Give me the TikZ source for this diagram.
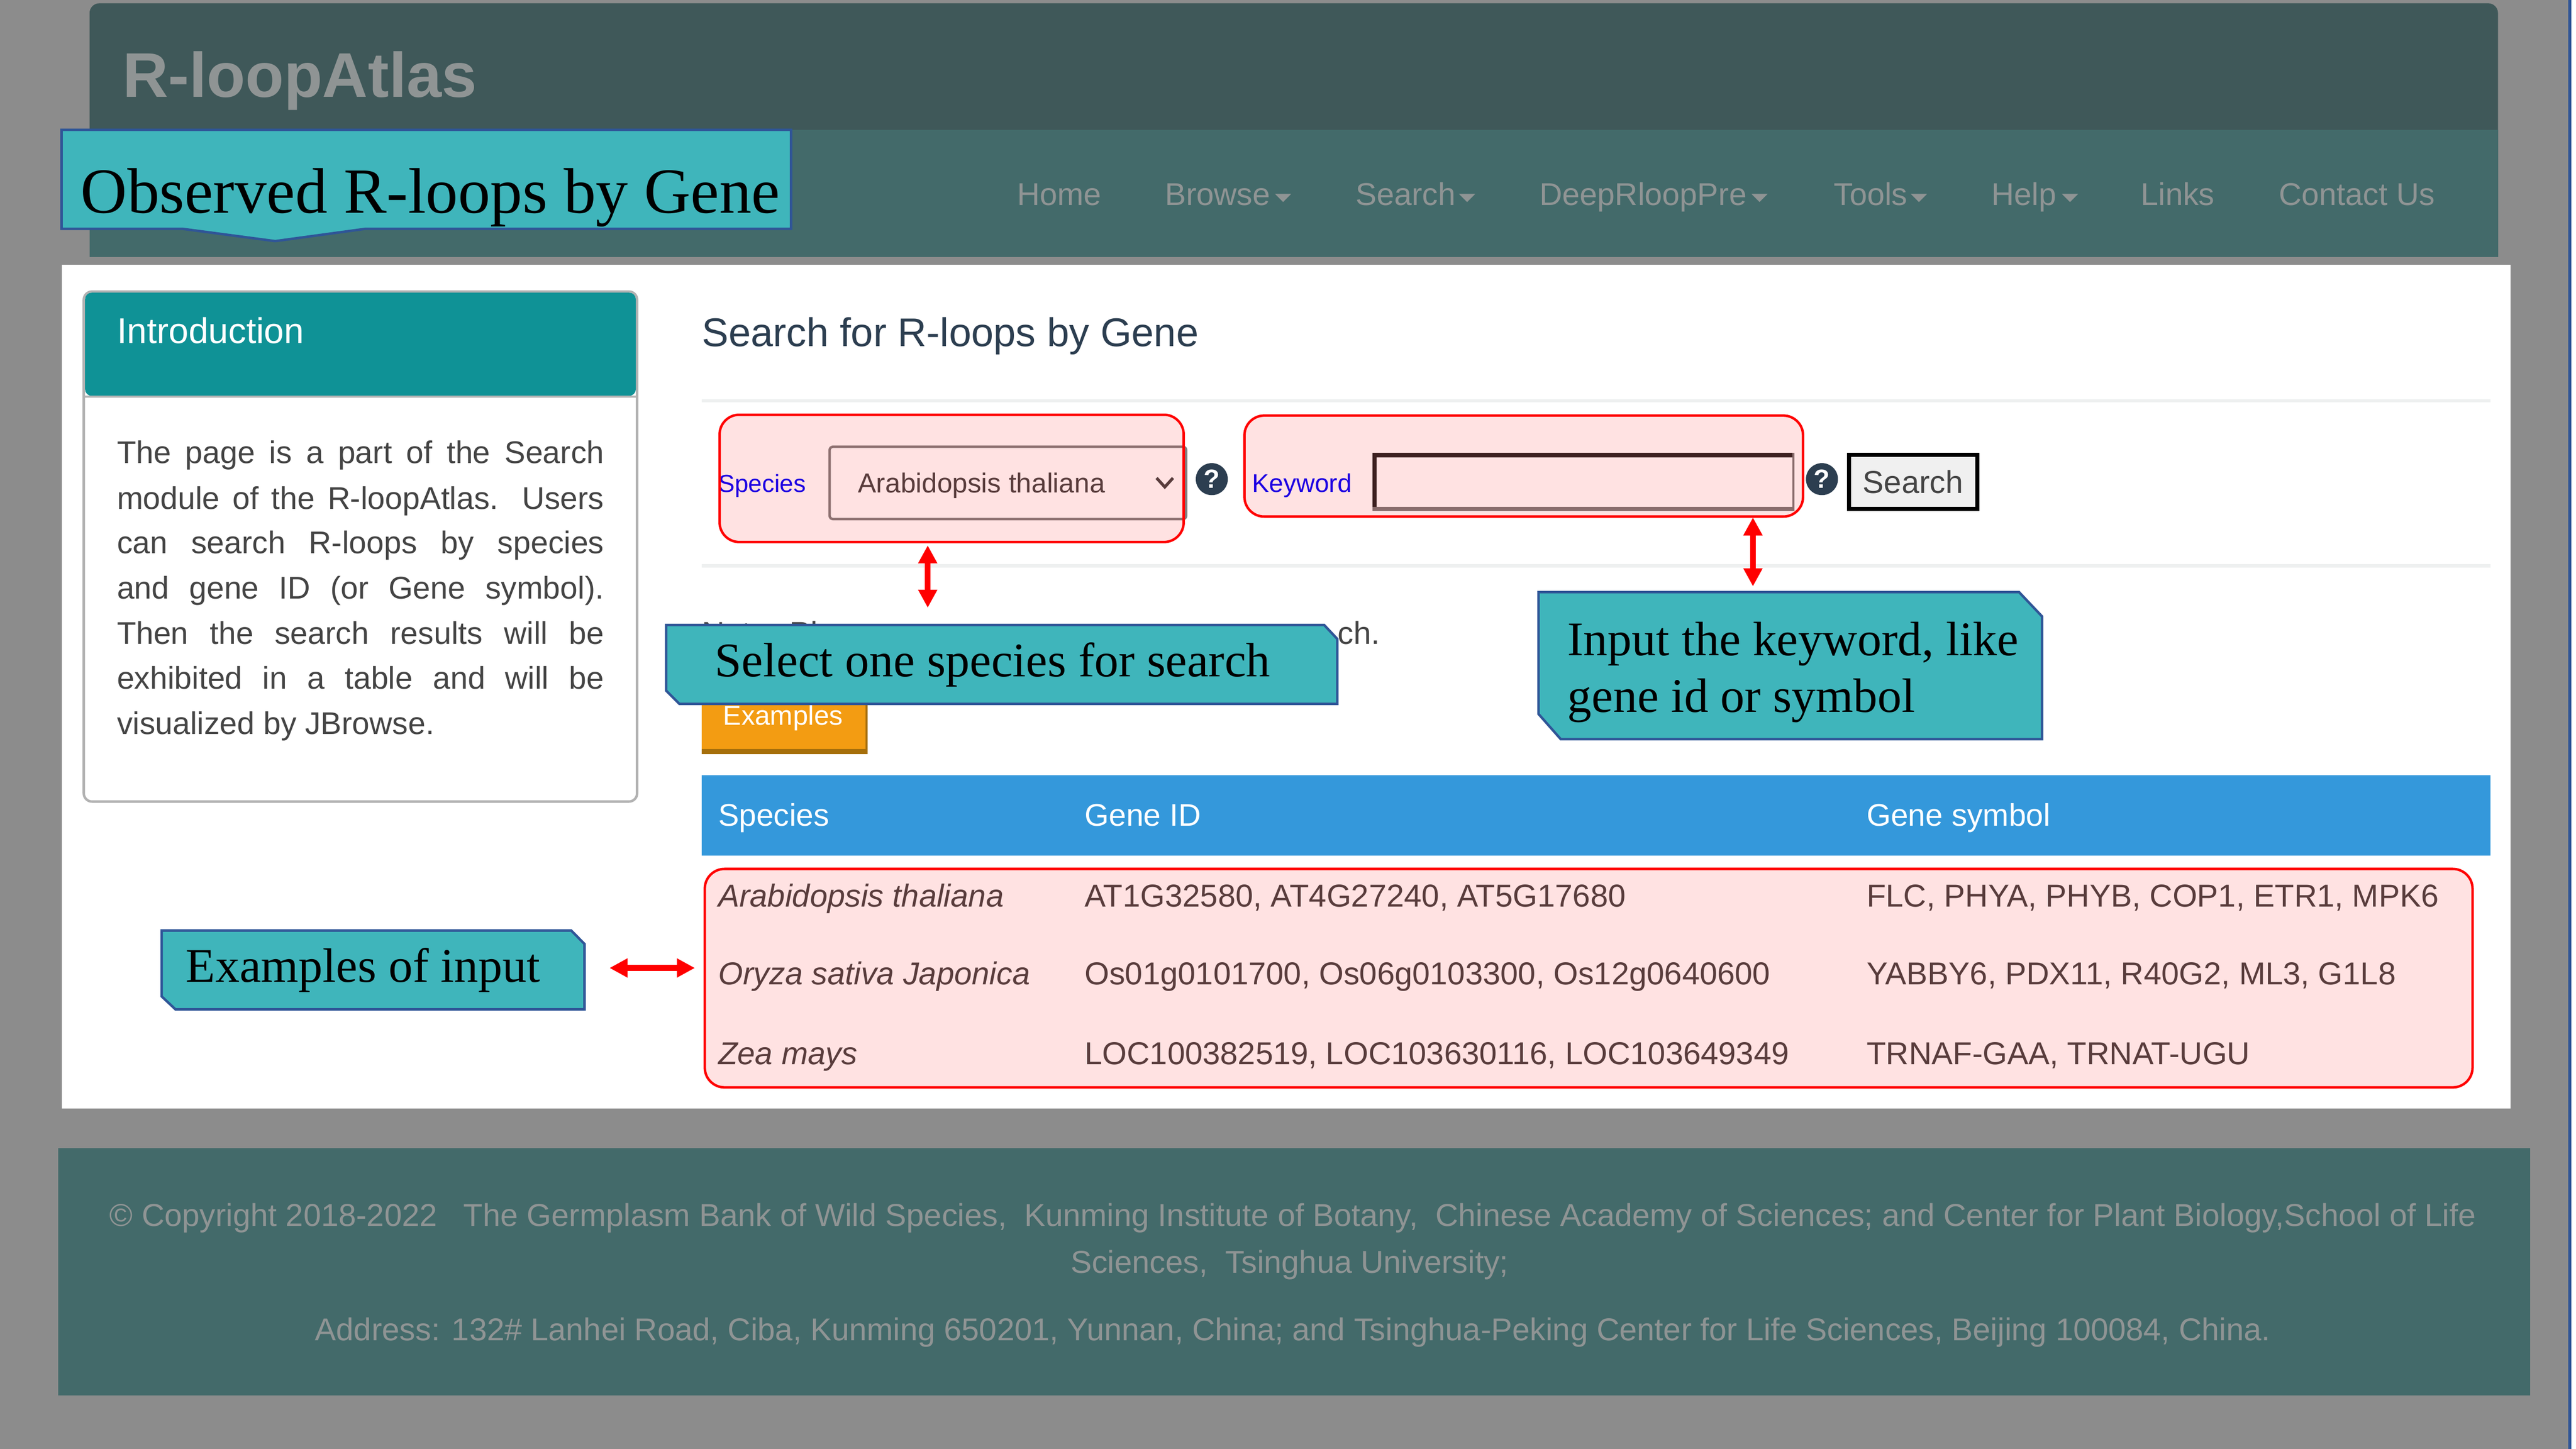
\documentclass[tikz,border=0pt]{standalone}
\usepackage{fontspec}
\setmainfont{Liberation Sans}
\newfontfamily\calloutfont{Liberation Serif}
\usetikzlibrary{arrows.meta}
\definecolor{pagegray}{HTML}{8C8C8C}
\definecolor{headdark}{HTML}{3F5859}
\definecolor{navteal}{HTML}{436A6A}
\definecolor{navtext}{HTML}{8F9494}
\definecolor{calloutfill}{HTML}{3FB5BB}
\definecolor{calloutline}{HTML}{2F5597}
\definecolor{panelteal}{HTML}{0F9296}
\definecolor{tableblue}{HTML}{3498DB}
\definecolor{btnorange}{HTML}{F39C12}
\definecolor{btnshade}{HTML}{A66F0B}
\definecolor{inktext}{HTML}{444444}
\definecolor{headtext}{HTML}{2C3E50}
\definecolor{ruleline}{HTML}{EEF0F0}
\newcommand{\fsz}[1]{\fontsize{#1}{#1}\selectfont}
\newcommand{\jline}[1]{\hbox to 296.5pt{#1}}
\tikzset{
  word/.style={inner sep=0pt, anchor=base west},
  navword/.style={word, text=navtext, font=\fsz{19.2}},
  introword/.style={word, text=inktext, font=\fsz{19.1}},
  rowword/.style={word, text=inktext, font=\fsz{19.3}},
  headword/.style={word, text=white, font=\fsz{19}},
  footword/.style={inner sep=0pt, anchor=base, text=navtext, font=\fsz{19.26}},
  calloutword/.style={word, text=black, font=\calloutfont\fsz{29.4}},
  calloutbox/.style={fill=calloutfill, draw=calloutline, line width=1.5pt, line join=miter},
  pickbox/.style={fill=red, fill opacity=0.115, draw=red, draw opacity=1, line width=1.5pt, rounded corners=12pt},
  twoway/.style={red, line width=3.6pt, {Triangle[length=11pt,width=11pt]}-{Triangle[length=11pt,width=11pt]}},
  helpdot/.style={circle, fill=headtext, text=white, inner sep=0pt, minimum size=19.5pt, font=\bfseries\fsz{16}}
}
\begin{document}
\begin{tikzpicture}[x=1pt,y=-1pt]
	\useasboundingbox (0,0) rectangle (1568,882);
	\fill[white] (0,0) rectangle (1568,882);
	\fill[pagegray] (0,0) rectangle (1563.4,882);
	\fill[calloutline] (1563.4,0) rectangle (1565,882);

	%the page header
	\fill[navteal] (54.5,79) rectangle (1520.5,156.4);
	\fill[headdark, rounded corners=6pt] (54.5,90) -- (54.5,2) -- (1520.5,2) -- (1520.5,90) -- cycle;
	\fill[navteal] (54.5,79) rectangle (1520.5,100);
	\node[word, text=navtext, font=\bfseries\fsz{38.4}] (brand) at (74.5,59) {R-loopAtlas};
	\node[navword] (navhome) at (619,125) {Home};
	\node[navword] (navbrowse) at (709,125) {Browse};
	\node[navword] (navsearch) at (825,125) {Search};
	\node[navword] (navdeep) at (937,125) {DeepRloopPre};
	\node[navword] (navtools) at (1116,125) {Tools};
	\node[navword] (navhelp) at (1212,125) {Help};
	\node[navword] (navlinks) at (1303,125) {Links};
	\node[navword] (navcontact) at (1387,125) {Contact Us};
	\foreach \x in {776,888,1066,1163,1255}
		\fill[navtext] (\x,118) -- (\x+10,118) -- (\x+5,123) -- cycle;

	%the white page and the footer
	\fill[white] (37.5,161.2) rectangle (1528,675);
	\fill[navteal] (35.5,699) rectangle (1540,849.5);
	\node[footword] (footone) at (787,746.5) {© Copyright 2018-2022\ \ \ The Germplasm Bank of Wild Species,\ \ Kunming Institute of Botany,\ \ Chinese Academy of Sciences; and Center for Plant Biology,School of Life};
	\node[footword] (foottwo) at (785,775) {Sciences,\ \ Tsinghua University;};
	\node[footword] (footthree) at (787,816) {Address: 132\# Lanhei Road, Ciba, Kunming 650201, Yunnan, China; and Tsinghua-Peking Center for Life Sciences, Beijing 100084, China.};

	%the introduction panel
	\draw[draw=black!30, fill=white, line width=1.5pt, rounded corners=5pt] (51,177.5) rectangle (387.8,488);
	\fill[panelteal, rounded corners=4pt] (51.8,178.2) -- (387,178.2) -- (387,241) -- (51.8,241) -- cycle;
	\draw[black!30, line width=1.5pt] (51,241.5) -- (387.8,241.5);
	\node[word, text=white, font=\fsz{21.8}] (introtitle) at (71,209) {Introduction};
	\node[introword] (introa) at (71,282) {\jline{The page is a part of the Search}};
	\node[introword] (introb) at (71,310) {\jline{module of the R-loopAtlas. Users}};
	\node[introword] (introc) at (71,337) {\jline{can search R-loops by species}};
	\node[introword] (introd) at (71,364.5) {\jline{and gene ID (or Gene symbol).}};
	\node[introword] (introe) at (71,392) {\jline{Then the search results will be}};
	\node[introword] (introf) at (71,419.5) {\jline{exhibited in a table and will be}};
	\node[introword] (introg) at (71,447) {visualized by JBrowse.};

	%the search form
	\node[word, text=headtext, font=\fsz{24.4}] (formtitle) at (427,211) {Search for R-loops by Gene};
	\fill[ruleline] (427,243) rectangle (1516,245);
	\fill[ruleline] (427,343.5) rectangle (1516,345.5);
	\node[word, text=blue, font=\fsz{15}] (specieslabel) at (437,299.5) {Species};
	\draw[draw=black!50, line width=1.5pt, rounded corners=2pt] (505,272) rectangle (722,316);
	\node[word, text=inktext, font=\fsz{16.7}] (speciesname) at (522,300) {Arabidopsis thaliana};
	\draw[inktext, line width=1.8pt] (704,291) -- (709,296.5) -- (714,291);
	\node[helpdot] (helpone) at (737.6,291.7) {?};
	\node[word, text=blue, font=\fsz{15.6}] (keywordlabel) at (762,299.5) {Keyword};
	\fill[white] (836,275.6) rectangle (1092.3,311);
	\fill[black!85] (835.5,275.6) rectangle (1092.3,278.6);
	\fill[black!85] (835.5,275.6) rectangle (837.8,311);
	\fill[black!52] (835.5,308.5) rectangle (1092.3,311);
	\fill[black!52] (1091,275.6) rectangle (1092.3,311);
	\node[helpdot] (helptwo) at (1109,291.7) {?};
	\node[draw=black, fill=black!6, line width=2.6pt, inner sep=0pt, minimum width=78pt, minimum height=33pt, text=inktext, font=\fsz{19.3}] (searchbtn) at (1164.5,293.3) {Search};
	\draw[pickbox] (438,252.5) rectangle (720.5,330);
	\draw[pickbox] (757.5,253) rectangle (1097.5,314.5);

	%the note line, mostly hidden by the callout
	\node[rowword] (notestart) at (427,392) {Note: Pl};
	\node[rowword] (noteend) at (814,392) {ch.};

	%examples button
	\fill[btnshade] (427,424) rectangle (528,459);
	\fill[btnorange] (427,424) rectangle (526.8,456);
	\node[word, text=white, font=\fsz{16.6}] (examplesbtn) at (440,441.5) {Examples};

	%the table
	\fill[tableblue] (427,472) rectangle (1516,521);
	\node[headword] (headspecies) at (437,503) {Species};
	\node[headword] (headgene) at (660,503) {Gene ID};
	\node[headword] (headsymbol) at (1136,503) {Gene symbol};
	\node[rowword] (rowaa) at (437,552) {\itshape Arabidopsis thaliana};
	\node[rowword] (rowab) at (660,552) {AT1G32580, AT4G27240, AT5G17680};
	\node[rowword] (rowac) at (1136,552) {FLC, PHYA, PHYB, COP1, ETR1, MPK6};
	\node[rowword] (rowba) at (437,599.5) {\itshape Oryza sativa Japonica};
	\node[rowword] (rowbb) at (660,599.5) {Os01g0101700, Os06g0103300, Os12g0640600};
	\node[rowword] (rowbc) at (1136,599.5) {YABBY6, PDX11, R40G2, ML3, G1L8};
	\node[rowword] (rowca) at (437,648) {\itshape Zea mays};
	\node[rowword] (rowcb) at (660,648) {LOC100382519, LOC103630116, LOC103649349};
	\node[rowword] (rowcc) at (1136,648) {TRNAF-GAA, TRNAT-UGU};
	\draw[pickbox] (429,529) rectangle (1505,662);

	%the callouts
	\draw[calloutbox] (37.5,79) -- (481.5,79) -- (481.5,139.3) -- (222.5,139.3) -- (167.5,146.8) -- (111,139.3) -- (37.5,139.3) -- cycle;
	\node[word, calloutword, font=\calloutfont\fsz{39.2}] (titlecall) at (49,129.7) {Observed R-loops by Gene};
	\draw[calloutbox] (405.5,380.5) -- (806,380.5) -- (814,389) -- (814,428.5) -- (413.5,428.5) -- (405.5,420.5) -- cycle;
	\node[calloutword] (speciescall) at (435,412) {Select one species for search};
	\draw[calloutbox] (936.5,360.5) -- (1229,360.5) -- (1243,375.3) -- (1243,450) -- (950,450) -- (936.5,434.7) -- cycle;
	\node[calloutword] (keywordcalla) at (954,399) {Input the keyword, like};
	\node[calloutword] (keywordcallb) at (954,433.5) {gene id or symbol};
	\draw[calloutbox] (98.4,566.5) -- (347.7,566.5) -- (355.8,574.7) -- (355.8,614.5) -- (106.8,614.5) -- (98.4,606.6) -- cycle;
	\node[calloutword] (examplecall) at (113,598) {Examples of input};

	%the red arrows
	\coordinate (speciestop) at (564.7,332);
	\coordinate (speciesfoot) at (564.7,370);
	\coordinate (keywordtop) at (1067,315);
	\coordinate (keywordfoot) at (1067,357);
	\coordinate (exampleleft) at (371,589.3);
	\coordinate (exampleright) at (423,589.3);
	\draw[twoway] (speciestop) -- (speciesfoot);
	\draw[twoway] (keywordtop) -- (keywordfoot);
	\draw[twoway] (exampleleft) -- (exampleright);
\end{tikzpicture}
\end{document}
